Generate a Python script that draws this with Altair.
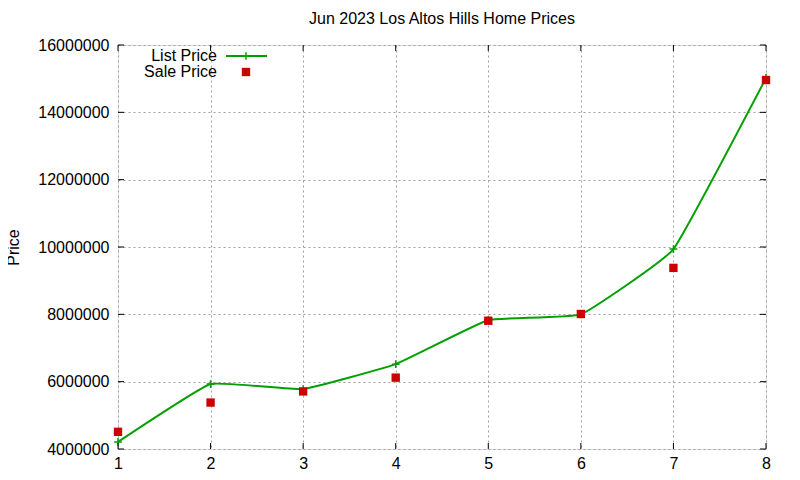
import altair as alt
import pandas as pd

## values
homes = [1, 2, 3, 4, 5, 6, 7, 8]
list_price = [4210000, 5930000, 5780000, 6520000, 7830000, 8000000, 9940000, 15020000]
sale_price = [4510000, 5380000, 5710000, 6120000, 7810000, 8010000, 9380000, 14960000]
y_ticks = [4000000, 6000000, 8000000, 10000000, 12000000, 14000000, 16000000]
x_ticks = [1, 2, 3, 4, 5, 6, 7, 8]
series = ['List Price', 'Sale Price']

W, H = 648, 404
FONT = 'Liberation Sans'
GREEN = '#00a000'
RED = '#cc0000'

df = pd.DataFrame({'home': homes, 'list': list_price, 'sale': sale_price})
yt = pd.DataFrame({'y': y_ticks})
xt = pd.DataFrame({'x': x_ticks})

xscale = alt.Scale(domain=[1, 8], nice=False, zero=False)
yscale = alt.Scale(domain=[4000000, 16000000], nice=False, zero=False)

common = dict(domain=False, ticks=False, gridDash=[2, 3], gridColor='#a0a0a0', gridOpacity=1,
              labelFont=FONT, labelFontSize=16, labelColor='black', labelFlush=False)
x_axis = alt.Axis(values=x_ticks, format='d', title=None, labelPadding=6, **common)
y_axis = alt.Axis(values=y_ticks, format='d', title='Price', labelPadding=9,
                  titleX=-105, titleY=H / 2, titleAlign='center', titleBaseline='middle',
                  titleFont=FONT, titleFontWeight='normal', titleFontSize=16,
                  titleColor='black', **common)

base = alt.Chart(df)

line = base.mark_line(color=GREEN, strokeWidth=2, interpolate='cardinal', tension=0.7).encode(
    x=alt.X('home:Q', scale=xscale, axis=x_axis),
    y=alt.Y('list:Q', scale=yscale, axis=y_axis),
)

crosses = base.mark_point(shape='M-1,0H1M0,-1V1', size=60, color=GREEN,
                          filled=False, strokeWidth=1.5, opacity=1).encode(
    x=alt.X('home:Q', scale=xscale),
    y=alt.Y('list:Q', scale=yscale),
)

squares = base.mark_square(size=70, color=RED, opacity=1).encode(
    x=alt.X('home:Q', scale=xscale),
    y=alt.Y('sale:Q', scale=yscale),
)

## inward ticks on all four sides, like gnuplot's mirrored tics
tk = dict(color='black', strokeWidth=1)
yt_left = alt.Chart(yt).mark_rule(**tk).encode(
    y=alt.Y('y:Q', scale=yscale), x=alt.value(0), x2=alt.value(6))
yt_right = alt.Chart(yt).mark_rule(**tk).encode(
    y=alt.Y('y:Q', scale=yscale), x=alt.value(W - 6), x2=alt.value(W))
xt_bottom = alt.Chart(xt).mark_rule(**tk).encode(
    x=alt.X('x:Q', scale=xscale), y=alt.value(H - 6), y2=alt.value(H))
xt_top = alt.Chart(xt).mark_rule(**tk).encode(
    x=alt.X('x:Q', scale=xscale), y=alt.value(0), y2=alt.value(6))

## key in the top-left corner, text on the left of the sample
key = pd.DataFrame({'name': series, 'row': [11, 27]})
key_text = alt.Chart(key).mark_text(align='right', baseline='middle', font=FONT,
                                    fontSize=16, color='black').encode(
    text='name:N', x=alt.value(99), y=alt.Y('row:Q', scale=None))
key_line = alt.Chart(key.iloc[[0]]).mark_rule(color=GREEN, strokeWidth=2).encode(
    x=alt.value(108), x2=alt.value(149), y=alt.Y('row:Q', scale=None))
key_cross = alt.Chart(key.iloc[[0]]).mark_point(shape='M-1,0H1M0,-1V1', size=60, color=GREEN,
                                               filled=False, strokeWidth=1.5, opacity=1).encode(
    x=alt.value(128), y=alt.Y('row:Q', scale=None))
key_square = alt.Chart(key.iloc[[1]]).mark_square(size=70, color=RED, opacity=1).encode(
    x=alt.value(128), y=alt.Y('row:Q', scale=None))

chart = alt.layer(
    line, crosses, squares, yt_left, yt_right, xt_bottom, xt_top,
    key_text, key_line, key_cross, key_square,
).properties(
    width=W, height=H,
    title=alt.TitleParams('Jun 2023 Los Altos Hills Home Prices', anchor='middle',
                          font=FONT, fontSize=16, fontWeight='normal', offset=10,
                          color='black'),
    autosize=alt.AutoSizeParams(type='none'),
    padding={'left': 110, 'top': 37, 'right': 26, 'bottom': 23},
).configure_view(
    stroke='black', strokeWidth=1.2
).configure(background='white')

chart.save('out.html', embed_options={'renderer': 'svg', 'actions': False})
